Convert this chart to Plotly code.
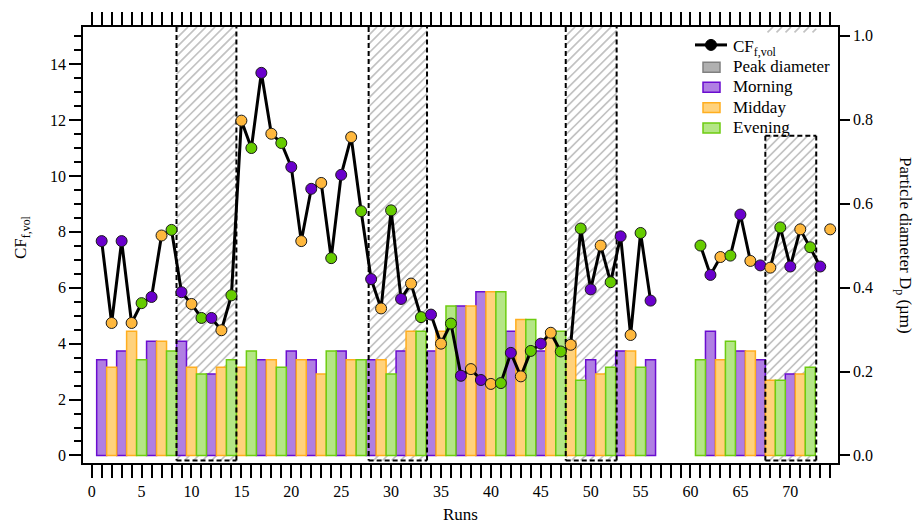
import math
import plotly.graph_objects as go

# ---------------- data ----------------
# CF_f,vol per run (left axis)
cf_runs = list(range(1, 57)) + list(range(61, 75))
cf_vals = [7.67, 4.74, 7.67, 4.74, 5.45, 5.67, 7.87, 8.07, 5.84, 5.42,
           4.92, 4.92, 4.48, 5.73, 11.98, 11.00, 13.69, 11.51, 11.18, 10.32,
           7.67, 9.54, 9.75, 7.06, 10.04, 11.39, 8.74, 6.31, 5.26, 8.77,
           5.60, 6.15, 4.95, 5.04, 4.00, 4.72, 2.85, 3.09, 2.70, 2.56,
           2.59, 3.67, 2.83, 3.74, 4.00, 4.39, 3.72, 3.96, 8.12, 5.94,
           7.51, 6.20, 7.84, 4.31, 7.96, 5.54,
           7.51, 6.46, 7.10, 7.15, 8.62, 6.96, 6.80, 6.72, 8.16, 6.76,
           8.09, 7.45, 6.76, 8.09]
# time of day of each run: M = Morning, D = Midday, E = Evening
cf_period = ["M", "D", "M", "D", "E", "M", "D", "E", "M", "D",
             "E", "M", "D", "E", "D", "E", "M", "D", "E", "M",
             "D", "M", "D", "E", "M", "D", "E", "M", "D", "E",
             "M", "D", "E", "M", "D", "E", "M", "D", "M", "D",
             "E", "M", "D", "E", "M", "D", "E", "D", "E", "M",
             "D", "E", "M", "D", "E", "M",
             "E", "M", "D", "E", "M", "D", "M", "D", "E", "M",
             "D", "E", "M", "D"]
# connected stretches of the CF line (first run, last run)
cf_segments = [(1, 56), (61, 73), (74, 74)]

# peak particle diameter per run (right axis, µm)
bar_runs = list(range(1, 57)) + list(range(61, 73))
bar_diam = [0.228, 0.210, 0.249, 0.296, 0.228, 0.272, 0.272, 0.249, 0.272, 0.210,
            0.194, 0.194, 0.210, 0.228, 0.210, 0.249, 0.228, 0.228, 0.210, 0.249,
            0.228, 0.228, 0.194, 0.249, 0.249, 0.228, 0.228, 0.228, 0.228, 0.194,
            0.249, 0.296, 0.296, 0.249, 0.296, 0.356, 0.356, 0.356, 0.390, 0.390,
            0.390, 0.296, 0.324, 0.324, 0.249, 0.296, 0.296, 0.272, 0.179, 0.228,
            0.194, 0.210, 0.249, 0.249, 0.210, 0.228,
            0.228, 0.296, 0.228, 0.272, 0.249, 0.249, 0.228, 0.179, 0.179, 0.194,
            0.194, 0.210]

# hatched run windows (start, end, top in µm; None = full height)
hatch_start = [8.5, 27.75, 47.5, 67.5]
hatch_end = [14.5, 33.6, 52.6, 72.6]
hatch_top = [None, None, None, 0.762]
hatch_bottom = -0.012
# thin hatched strip along the top edge above the last window
strip_start, strip_end, strip_bottom = 67.5, 72.6, 1.008

x_range = [-0.87, 74.78]
cf_range = [-0.27, 15.33]
dp_range = [-0.018, 1.021]

period_codes = ["M", "D", "E"]
period_names = {"M": "Morning", "D": "Midday", "E": "Evening"}
period_marker = {"M": "#6a00cc", "D": "#ffb83d", "E": "#66cc00"}
period_fill = {"M": "#b07fe3", "D": "#ffd27c", "E": "#b4e686"}
period_line = {"M": "#6a0dd0", "D": "#ffae1f", "E": "#6dcc10"}

FONT = "Liberation Serif, Times New Roman, serif"
W, H = 920, 523
M_L, M_R, M_T, M_B = 83, 82, 25, 60
PLOT_W, PLOT_H = W - M_L - M_R, H - M_T - M_B
HATCH_STEP = 9  # spacing of the hatch lines, px


def px_x(px):
    """pixel column -> paper x"""
    return (px - M_L) / PLOT_W


def px_y(py):
    """pixel row -> paper y"""
    return (H - M_B - py) / PLOT_H


fig = go.Figure()

# ---- hatched windows: 45° line hatching on the hidden base axis ----
sx = PLOT_W / (x_range[1] - x_range[0])      # px per run
sy = PLOT_H / (dp_range[1] - dp_range[0])    # px per µm
windows = []
for s, e, t in zip(hatch_start, hatch_end, hatch_top):
    windows.append((s, e, hatch_bottom, dp_range[1] if t is None else t))
windows.append((strip_start, strip_end, strip_bottom, dp_range[1]))
for s, e, b, t in windows:
    hx, hy = [], []
    xa, xb = (s - x_range[0]) * sx, (e - x_range[0]) * sx
    ya, yb = (b - dp_range[0]) * sy, (t - dp_range[0]) * sy
    k0 = math.floor((ya - xb) / HATCH_STEP)
    k1 = math.ceil((yb - xa) / HATCH_STEP)
    for k in range(k0, k1 + 1):
        c = k * HATCH_STEP
        x_lo, x_hi = max(xa, ya - c), min(xb, yb - c)
        if x_hi - x_lo < 0.5:
            continue
        hx += [x_lo / sx + x_range[0], x_hi / sx + x_range[0], None]
        hy += [(x_lo + c) / sy + dp_range[0], (x_hi + c) / sy + dp_range[0],
               None]
    fig.add_trace(go.Scatter(
        x=hx, y=hy, yaxis="y", mode="lines", showlegend=False,
        hoverinfo="skip", line=dict(color="#c2c2c2", width=1.7)))

# ---- peak diameter bars by time of day (right axis) ----
run_period = dict(zip(cf_runs, cf_period))
for code in period_codes:
    xs = [r for r in bar_runs if run_period[r] == code]
    ys = [d for r, d in zip(bar_runs, bar_diam) if run_period[r] == code]
    fig.add_trace(go.Bar(
        x=xs, y=ys, width=1.0, yaxis="y2", name=period_names[code],
        showlegend=False,
        marker=dict(color=period_fill[code],
                    line=dict(color=period_line[code], width=1.5))))

# ---- dashed outlines of the hatched windows, one edge at a time ----
dx, dy = [], []
for s, e, t in zip(hatch_start, hatch_end, hatch_top):
    top = dp_range[1] if t is None else t
    dx += [s, s, None, s, e, None, e, e, None]
    dy += [top, hatch_bottom, None, hatch_bottom, hatch_bottom, None,
           hatch_bottom, top, None]
    if t is not None:
        dx += [s, e, None]
        dy += [top, top, None]
fig.add_trace(go.Scatter(
    x=dx, y=dy, yaxis="y2", mode="lines", showlegend=False, hoverinfo="skip",
    fill="none", line=dict(color="black", width=2, dash="5px,3px")))

# ---- CF line and markers (left axis) ----
lx, ly = [], []
cf_map = dict(zip(cf_runs, cf_vals))
for a, b in cf_segments:
    for r in range(a, b + 1):
        lx.append(r)
        ly.append(cf_map[r])
    lx.append(None)
    ly.append(None)
fig.add_trace(go.Scatter(
    x=lx, y=ly, yaxis="y3", mode="lines", showlegend=False,
    line=dict(color="black", width=3), hoverinfo="skip"))
fig.add_trace(go.Scatter(
    x=cf_runs, y=cf_vals, yaxis="y3", mode="markers", showlegend=False,
    marker=dict(size=11, color=[period_marker[p] for p in cf_period],
                line=dict(color="#1a1a1a", width=1))))

tickfont = dict(family=FONT, size=16, color="black")

fig.update_layout(
    width=W, height=H,
    margin=dict(l=M_L, r=M_R, t=M_T, b=M_B),
    paper_bgcolor="white", plot_bgcolor="white",
    barmode="overlay", showlegend=False,
    font=dict(family=FONT, size=16, color="black"),
    xaxis=dict(range=x_range, tick0=0, dtick=5, ticks="outside", ticklen=13,
               tickwidth=1.5, tickcolor="black", showline=True, linewidth=1.5,
               linecolor="black", mirror="allticks", showgrid=False,
               zeroline=False, tickfont=tickfont,
               minor=dict(dtick=1, ticks="outside", ticklen=6, tickwidth=1.5,
                          tickcolor="black", showgrid=False)),
    # hidden base axis carrying the hatching
    yaxis=dict(range=dp_range, visible=False, showgrid=False, zeroline=False),
    yaxis2=dict(range=dp_range, side="right", overlaying="y", tick0=0,
                dtick=0.2, tickformat=".1f", ticks="outside", ticklen=10,
                tickwidth=1.5, tickcolor="black", showline=True,
                linewidth=1.5, linecolor="black", showgrid=False,
                zeroline=False, tickfont=tickfont),
    yaxis3=dict(range=cf_range, side="left", overlaying="y", tick0=0, dtick=2,
                ticks="outside", ticklen=12, tickwidth=1.5, tickcolor="black",
                showline=True, linewidth=1.5, linecolor="black",
                showgrid=False, zeroline=False, tickfont=tickfont,
                minor=dict(dtick=0.5, ticks="outside", ticklen=7,
                           tickwidth=1.5, tickcolor="black", showgrid=False)),
)

# ---- legend, laid out by hand in the upper right corner ----
leg_font = dict(family=FONT, size=17, color="black")
leg_text_x = px_x(731)
# line + marker key for CF
fig.add_shape(type="line", xref="paper", yref="paper",
              x0=px_x(695), x1=px_x(727), y0=px_y(43), y1=px_y(43),
              line=dict(color="black", width=3))
fig.add_shape(type="circle", xref="paper", yref="paper",
              x0=px_x(705.5), x1=px_x(716.5), y0=px_y(48.5), y1=px_y(37.5),
              fillcolor="black", line=dict(color="black", width=1))
fig.add_annotation(text="CF<sub>f,vol</sub>", xref="paper", yref="paper",
                   x=leg_text_x, y=px_y(46), xanchor="left", yanchor="middle",
                   showarrow=False, font=leg_font)
# box keys
box_rows = [("Peak diameter", "#b0b0b0", "#808080", 65.5)]
for code, row_y in zip(period_codes, [85.5, 106, 126.5]):
    box_rows.append((period_names[code], period_fill[code],
                     period_line[code], row_y))
for label, fill, edge, row_y in box_rows:
    fig.add_shape(type="rect", xref="paper", yref="paper",
                  x0=px_x(703), x1=px_x(720), y0=px_y(row_y + 5),
                  y1=px_y(row_y - 5), fillcolor=fill,
                  line=dict(color=edge, width=1.5))
    fig.add_annotation(text=label, xref="paper", yref="paper",
                       x=leg_text_x, y=px_y(row_y - 0.5), xanchor="left",
                       yanchor="middle", showarrow=False, font=leg_font)

# ---- axis titles ----
fig.add_annotation(text="CF<sub>f,vol</sub>", xref="paper", yref="paper",
                   x=px_x(22), y=px_y(236), textangle=-90, showarrow=False,
                   xanchor="center", yanchor="middle",
                   font=dict(family=FONT, size=17, color="black"))
fig.add_annotation(text="Particle diameter D<sub>p</sub> (µm)", xref="paper",
                   yref="paper", x=px_x(904), y=px_y(244), textangle=90,
                   showarrow=False, xanchor="center", yanchor="middle",
                   font=dict(family=FONT, size=17, color="black"))
fig.add_annotation(text="Runs", xref="paper", yref="paper", x=0.5,
                   y=px_y(515), showarrow=False, xanchor="center",
                   yanchor="middle",
                   font=dict(family=FONT, size=17, color="black"))

fig.write_html("out.html")
